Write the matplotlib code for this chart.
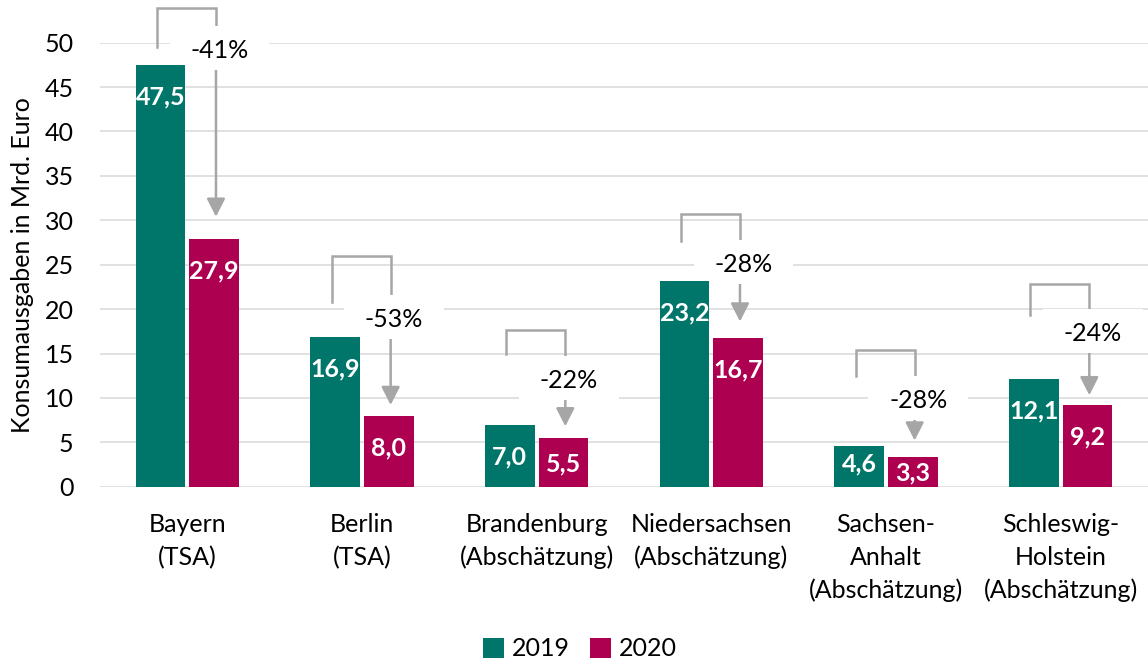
import matplotlib
matplotlib.use("Agg")
import matplotlib.pyplot as plt
from matplotlib.patches import Patch, Rectangle

# --- data -------------------------------------------------------------
regions = ["Bayern\n(TSA)", "Berlin\n(TSA)", "Brandenburg\n(Abschätzung)",
           "Niedersachsen\n(Abschätzung)", "Sachsen-\nAnhalt\n(Abschätzung)",
           "Schleswig-\nHolstein\n(Abschätzung)"]
spend_2019 = [47.5, 16.9, 7.0, 23.2, 4.6, 12.1]
spend_2020 = [27.9, 8.0, 5.5, 16.7, 3.3, 9.2]
change_pct = [-41, -53, -22, -28, -28, -24]
years = ["2019", "2020"]
y_ticks = [0, 5, 10, 15, 20, 25, 30, 35, 40, 45, 50]

# --- layout of the change brackets (heights in axis units) -------------
bracket_top = [53.9, 25.95, 17.6, 30.7, 15.35, 22.8]
bracket_left_end = [49.5, 20.8, 15.0, 27.7, 12.5, 19.3]
bracket_label_y = [49.4, 19.1, 12.2, 25.3, 9.95, 17.5]
arrow_tip = [30.4, 9.2, 6.8, 18.6, 5.2, 10.3]

TEAL = "#00766B"
CRIMSON = "#AD0050"
GRID = "#D9D9D9"
BRACKET = "#A6A6A6"
FONT = "Lato"
FS = 18

plt.rcParams["font.family"] = [FONT, "DejaVu Sans"]

fig = plt.figure(figsize=(11.48, 6.62), dpi=100)
ax = fig.add_axes([100 / 1148, 175.3 / 662, 1048 / 1148, 444 / 662])

bar_w = 0.285
off = 0.154
xs = list(range(len(regions)))

ax.bar([x - off for x in xs], spend_2019, width=bar_w, color=TEAL, zorder=5)
ax.bar([x + off for x in xs], spend_2020, width=bar_w, color=CRIMSON, zorder=5)


def fmt(v):
    return f"{v:.1f}".replace(".", ",")


def label_center(v):
    return v - min(3.5, max(1.65, v - 2.7))


for x, a, b in zip(xs, spend_2019, spend_2020):
    for xx, v in ((x - off, a), (x + off, b)):
        ax.text(xx, label_center(v) - 0.95, fmt(v), ha="center", va="baseline",
                color="white", fontsize=FS, fontweight="bold", zorder=6)

# size of the white label patch in axis units (≈100 x 44 px)
box_w = 0.572
box_h = 4.95

# change brackets with arrow and percentage label
for x, pct, top, lend, ly, tip in zip(xs, change_pct, bracket_top,
                                      bracket_left_end, bracket_label_y, arrow_tip):
    xl = x - off - 0.02
    xr = x + off + 0.01
    ax.plot([xl, xl, xr, xr], [lend, top, top, ly], color=BRACKET, lw=1.8,
            solid_joinstyle="miter", clip_on=False, zorder=3)
    ax.annotate("", xy=(xr, tip), xytext=(xr, ly),
                arrowprops=dict(arrowstyle="-|>,head_length=0.55,head_width=0.28",
                                color=BRACKET, lw=1.8, mutation_scale=20,
                                shrinkA=0, shrinkB=0),
                annotation_clip=False, zorder=3)
    lx = xr + 0.02
    ax.add_patch(Rectangle((lx - box_w / 2, ly - box_h / 2), box_w, box_h,
                           fc="white", ec="none", zorder=4, clip_on=False))
    ax.text(lx, ly, f"{pct}%", ha="center", va="center_baseline",
            fontsize=FS, color="black", zorder=4.5)

ax.set_xlim(-0.5, 5.5)
ax.set_ylim(0, 50)
ax.set_yticks(y_ticks)
ax.set_yticklabels([str(t) for t in y_ticks], fontsize=FS)
ax.set_xticks(xs)
ax.set_xticklabels(regions, fontsize=FS, linespacing=1.5, va="top")
ax.tick_params(axis="both", length=0)
ax.tick_params(axis="y", pad=19)
ax.tick_params(axis="x", pad=19)
ax.yaxis.grid(True, color=GRID, lw=1.1, zorder=0)
ax.set_axisbelow(True)
for s in ax.spines.values():
    s.set_visible(False)

fig.text(22.5 / 1148, (662 - 264.7) / 662, "Konsumausgaben in Mrd. Euro",
         rotation=90, ha="center", va="center", fontsize=FS)

handles = [Patch(facecolor=TEAL), Patch(facecolor=CRIMSON)]
fig.legend(handles, years, loc="center", bbox_to_anchor=(0.505, 0.02),
           ncol=2, frameon=False, fontsize=FS, handlelength=0.85, handleheight=0.85,
           handletextpad=0.3, columnspacing=0.8, borderaxespad=0)

fig.savefig("out.png", dpi=100)
